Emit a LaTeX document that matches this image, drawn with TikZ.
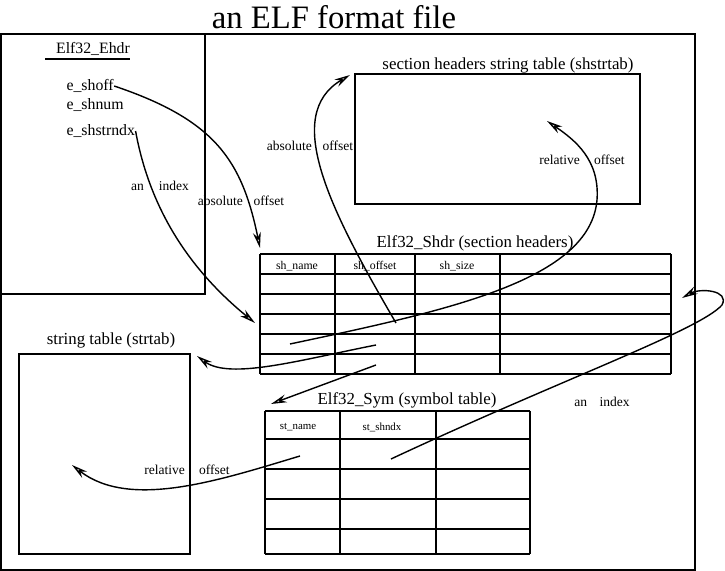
\documentclass[tikz,border=0pt]{standalone}
\usepackage{fontspec}
\setmainfont{Liberation Serif}
\usetikzlibrary{arrows.meta}

\newcommand{\fs}[1]{\fontsize{#1}{#1}\selectfont}

\begin{document}
\begin{tikzpicture}[x=0.02cm, y=-0.02cm, line width=0.6pt,
        ptr/.style={line width=0.8pt, -{Stealth[open, length=9pt, width=4.5pt]}},
        lbl/.style={inner sep=0pt, font=\fs{7.7}},
        cell/.style={inner sep=0pt, font=\fs{6.7}},
        ttl/.style={inner sep=0pt, font=\fs{9.6}}]
        \useasboundingbox (0,0) rectangle (725,571);

        \node[inner sep=0pt, font=\fs{18.6}] (title) at (334,17) {an ELF format file};
        \draw (1,34) rectangle (695,570);

        % ELF header
        \draw (1,34) rectangle (205,294);
        \node[ttl, font=\fs{9}] (ehdr) at (93,49) {Elf32\_Ehdr};
        \draw (45,59) -- (130,59);
        \node[inner sep=0pt, anchor=west, font=\fs{9}] (shoff) at (66,86) {e\_shoff};
        \node[inner sep=0pt, anchor=west, font=\fs{9}] (shnum) at (66,105) {e\_shnum};
        \node[inner sep=0pt, anchor=west, font=\fs{9}] (shstrndx) at (66,131) {e\_shstrndx};

        % section headers string table
        \draw (355,74) rectangle (640,204);
        \node[ttl] (shstrtab) at (508,65) {section headers string table (shstrtab)};

        % section headers
        \node[ttl] (shdr) at (475,243) {Elf32\_Shdr (section headers)};
        \foreach \y in {254,274,...,374}
            \draw (260,\y) -- (671,\y);
        \foreach \x in {260,335,415,500,671}
            \draw (\x,254) -- (\x,374);
        \node[cell] (shname) at (297,266) {sh\_name};
        \node[cell] (shoffset) at (375,266) {sh\_offset};
        \node[cell] (shsize) at (457,266) {sh\_size};

        % string table
        \draw (19,354) rectangle (190,554);
        \node[ttl] (strtab) at (111,340) {string table (strtab)};

        % symbol table
        \node[ttl] (sym) at (407,400) {Elf32\_Sym (symbol table)};
        \foreach \y in {411,439,469,499,529,554}
            \draw (265,\y) -- (530,\y);
        \foreach \x in {265,340,436,530}
            \draw (\x,411) -- (\x,554);
        \node[cell, font=\fs{6.2}] (stname) at (298,427) {st\_name};
        \node[cell, font=\fs{6.2}] (stshndx) at (382,427) {st\_shndx};

        \coordinate (offA) at (396,323);
        \coordinate (nameA) at (290,344);
        \coordinate (nameB) at (376,345);
        \coordinate (symA) at (376,365);
        \coordinate (nameS) at (300,456);
        \coordinate (ndxS) at (391,459);

        \coordinate (shdrTop) at (260,248);
        \coordinate (shdrRow) at (255,323);
        \coordinate (shstrTop) at (350,75);
        \coordinate (shstrIn) at (547,121);
        \coordinate (strTop) at (197,356);
        \coordinate (symTop) at (271,404);
        \coordinate (shdrSide) at (682,298);
        \coordinate (strIn) at (72,465);

        \draw[ptr] (shoff.east) .. controls (215,120) and (242,160) .. (shdrTop);
        \draw[ptr] (shstrndx.east) .. controls (150,210) and (190,270) .. (shdrRow);
        \draw[ptr] (offA) .. controls (330,210) and (282,115) .. (shstrTop);
        \draw[ptr] (nameA) .. controls (450,310) and (590,280) .. (597,200)
            .. controls (600,160) and (575,140) .. (shstrIn);
        \draw[ptr] (nameB) .. controls (300,360) and (230,380) .. (strTop);
        \draw[ptr] (symA) -- (symTop);
        \draw[ptr] (ndxS) .. controls (560,380) and (700,330) .. (722,305)
            .. controls (730,290) and (700,288) .. (shdrSide);
        \draw[ptr] (nameS) .. controls (220,480) and (130,510) .. (strIn);

        \node[lbl] (absA) at (241,201) {absolute\hspace{6pt}offset};
        \node[lbl] (idxA) at (160,186) {an\hspace{8.5pt}index};
        \node[lbl] (absB) at (310,146) {absolute\hspace{6pt}offset};
        \node[lbl] (relA) at (582,160) {relative\hspace{8pt}offset};
        \node[lbl] (relB) at (187,470) {relative\hspace{8pt}offset};
        \node[lbl] (idxB) at (602,402) {an\hspace{7pt}index};
\end{tikzpicture}
\end{document}
